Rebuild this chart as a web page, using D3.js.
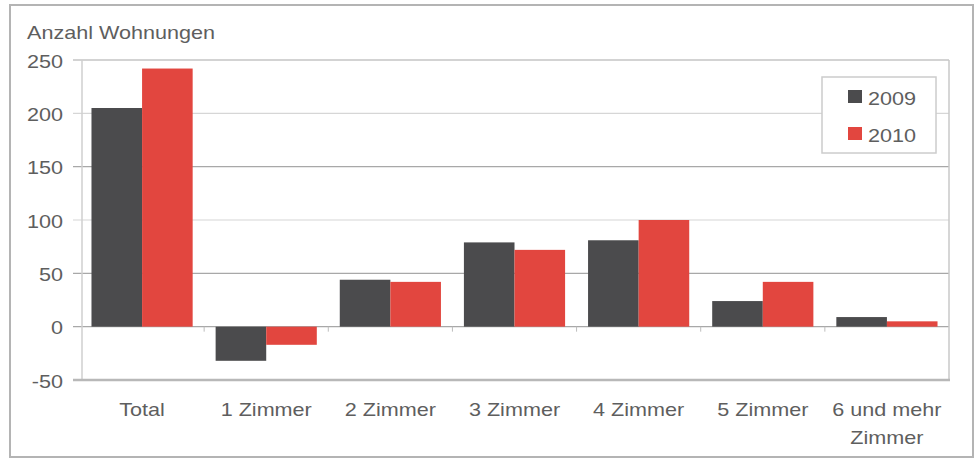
<!DOCTYPE html>
<html>
<head>
<meta charset="utf-8">
<script src="https://cdn.jsdelivr.net/npm/d3@7"></script>
<style>
  html, body { margin: 0; padding: 0; background: #fff; }
  svg { display: block; }
  text { font-family: "Liberation Sans", Arial, sans-serif; fill: #5e5e5e; }
</style>
</head>
<body>
<svg id="chart" width="979" height="459"></svg>
<script>
const categories = ["Total", "1 Zimmer", "2 Zimmer", "3 Zimmer", "4 Zimmer", "5 Zimmer", "6 und mehr Zimmer"];
const seriesNames = ["2009", "2010"];
const values2009 = [205, -32, 44, 79, 81, 24, 9];
const values2010 = [242, -17, 42, 72, 100, 42, 5];
const yTicks = [-50, 0, 50, 100, 150, 200, 250];
const yTitle = "Anzahl Wohnungen";

const colors = { "2009": "#4b4b4d", "2010": "#e2463f" };
const seriesValues = { "2009": values2009, "2010": values2010 };
const FS = 18, SX = 1.2;

const svg = d3.select("#chart");

// outer frame
svg.append("rect").attr("x", 10).attr("y", 5).attr("width", 963).attr("height", 452)
  .attr("fill", "#fff").attr("stroke", "#b4b4b4").attr("stroke-width", 2);

const plot = { left: 82, right: 949, top: 60, bottom: 380 };

const x0 = d3.scaleBand().domain(categories).range([plot.left - 2, plot.right])
  .paddingInner(0.185).paddingOuter(0.0925);
const x1 = d3.scaleBand().domain(seriesNames).range([0, x0.bandwidth()]);
const y = d3.scaleLinear().domain([-50, 250]).range([plot.bottom, plot.top]);

// gridlines
const gridColor = v => (v === 250 || v === 150 || v === 50 || v === 0) ? "#a8a8a8" : "#d6d6d6";
svg.append("g").selectAll("line").data(yTicks.filter(v => v !== -50)).join("line")
  .attr("x1", 73).attr("x2", plot.right)
  .attr("y1", d => y(d)).attr("y2", d => y(d))
  .attr("stroke", d => gridColor(d)).attr("stroke-width", 1.2);

// left axis line and right border
svg.append("line").attr("x1", plot.left).attr("x2", plot.left).attr("y1", plot.top).attr("y2", plot.bottom)
  .attr("stroke", "#cfcfcf").attr("stroke-width", 1.5);
svg.append("line").attr("x1", plot.right).attr("x2", plot.right).attr("y1", plot.top).attr("y2", plot.bottom)
  .attr("stroke", "#c8c8c8").attr("stroke-width", 1.5);

// bars
const groups = svg.append("g").selectAll("g").data(categories).join("g")
  .attr("transform", d => `translate(${x0(d)},0)`);
groups.selectAll("rect")
  .data((c, i) => seriesNames.map(s => ({ s, v: seriesValues[s][i] })))
  .join("rect")
  .attr("x", d => x1(d.s))
  .attr("width", x1.bandwidth())
  .attr("y", d => y(Math.max(0, d.v)))
  .attr("height", d => Math.abs(y(d.v) - y(0)))
  .attr("fill", d => colors[d.s]);

// category boundary ticks on zero line
const step = x0.step();
svg.append("g").selectAll("line").data(categories.slice(1)).join("line")
  .attr("x1", d => x0(d) - (step - x0.bandwidth()) / 2)
  .attr("x2", d => x0(d) - (step - x0.bandwidth()) / 2)
  .attr("y1", y(0)).attr("y2", y(0) + 5)
  .attr("stroke", "#bdbdbd").attr("stroke-width", 1);

// bottom line at -50
svg.append("line").attr("x1", 73).attr("x2", plot.right + 1).attr("y1", y(-50)).attr("y2", y(-50))
  .attr("stroke", "#b8b8b8").attr("stroke-width", 2.5);

// y axis labels
const yAxis = svg.append("g").attr("transform", "translate(63,0)")
  .call(d3.axisLeft(y).tickValues(yTicks).tickSize(0).tickPadding(0).tickFormat(d => String(d)));
yAxis.select(".domain").remove();
yAxis.selectAll("text")
  .attr("x", 0).attr("dy", null).attr("y", 7)
  .attr("text-anchor", "end")
  .attr("transform", `scale(${SX},1)`)
  .style("font-size", FS + "px").style("font-family", null).attr("fill", "#5e5e5e");

// x axis labels
const xAxis = svg.append("g").attr("transform", `translate(0,${plot.bottom})`)
  .call(d3.axisBottom(x0).tickSize(0).tickPadding(0));
xAxis.select(".domain").remove();
xAxis.selectAll("text")
  .attr("y", 36).attr("dy", null)
  .attr("text-anchor", "middle")
  .attr("transform", `scale(${SX},1)`)
  .style("font-size", FS + "px").style("font-family", null).attr("fill", "#5e5e5e")
  .each(function (d) {
    const t = d3.select(this);
    if (d.length > 12) {
      const idx = d.lastIndexOf(" ");
      const lines = [d.slice(0, idx), d.slice(idx + 1)];
      t.text(null);
      lines.forEach((ln, i) => t.append("tspan").attr("x", 0).attr("y", 36 + i * 28).text(ln));
    }
  });

// title
svg.append("text").attr("transform", `translate(27,39) scale(${SX},1)`)
  .style("font-size", FS + "px").text(yTitle);

// legend
const lg = svg.append("g");
lg.append("rect").attr("x", 822).attr("y", 77).attr("width", 114).attr("height", 76)
  .attr("fill", "#fff").attr("stroke", "#cccccc").attr("stroke-width", 1.5);
seriesNames.forEach((s, i) => {
  const yy = 90 + i * 37;
  lg.append("rect").attr("x", 848).attr("y", yy).attr("width", 14).attr("height", 13).attr("fill", colors[s]);
  lg.append("text").attr("transform", `translate(868,${yy + 15}) scale(${SX},1)`)
    .style("font-size", FS + "px").text(s);
});
</script>
</body>
</html>
